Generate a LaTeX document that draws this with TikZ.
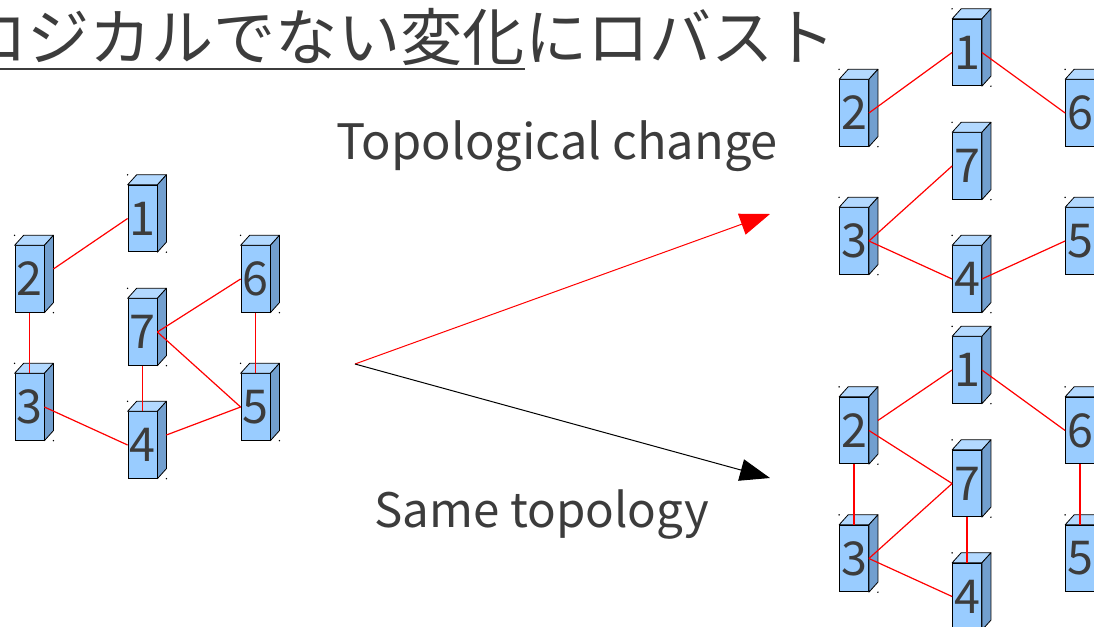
\documentclass[tikz,border=0pt]{standalone}
\usepackage{fontspec}
\setmainfont{Noto Sans CJK JP}
\usetikzlibrary{arrows.meta}
\definecolor{txt}{HTML}{3C3C3C}
\definecolor{front}{HTML}{99CCFF}
\definecolor{topf}{HTML}{B3D9FF}
\definecolor{side}{HTML}{729FCF}
\tikzset{
  cube/.style={draw=black, line width=0.6pt, fill=front, inner sep=0pt,
    minimum width=21.75pt, minimum height=49.9pt, text=txt,
    font=\fontsize{35}{35}\selectfont},
  link/.style={draw=red, line width=0.9pt},
  face/.style={draw=black, line width=0.6pt, line join=round},
  label/.style={anchor=base west, inner sep=0pt, text=txt},
}
\newcommand\cubeset[3]{%
  \begin{scope}[shift={(#2,#3)}]
    \node[cube] (#1a) at (142.5,218.5) {1};
    \node[cube] (#1b) at (29.5,279) {2};
    \node[cube] (#1f) at (255.5,279) {6};
    \node[cube] (#1g) at (142.5,332) {7};
    \node[cube] (#1c) at (29.5,407) {3};
    \node[cube] (#1e) at (255.5,407) {5};
    \node[cube] (#1d) at (142.5,445) {4};
  \end{scope}}
\begin{document}
\begin{tikzpicture}[x=0.75pt, y=-0.75pt]
  \fill[white] (0,0) rectangle (1094,627);
  \useasboundingbox (0,0) rectangle (1094,627);

  % title
  \node[label, font=\fontsize{46.6}{46.6}\selectfont] (t1) at (-35,61) {ロジカルでない変化};
  \node[label, font=\fontsize{46.6}{46.6}\selectfont] (t2) at (t1.base east) {にロバスト};
  \draw[txt, line width=1.5pt] ([shift={(0,8)}]t1.base west) -- ([shift={(0,8)}]t1.base east);

  % labels
  \node[label, font=\fontsize{36.6}{36.6}\selectfont] (topo) at (336,160) {Topological change};
  \node[label, font=\fontsize{35.6}{35.6}\selectfont] (same) at (374,527) {Same topology};

  % cubes
  \cubeset{L}{0}{0}
  \cubeset{T}{824.5}{-166}
  \cubeset{B}{824.5}{151.5}

  \foreach \g in {L,T,B}{
    \foreach \i in {a,b,c,d,e,f,g}{
      \filldraw[face, fill=topf] (\g\i.north west) -- ([shift={(9,-10)}]\g\i.north west)
        -- ([shift={(9,-10)}]\g\i.north east) -- (\g\i.north east) -- cycle;
      \filldraw[face, fill=side] (\g\i.north east) -- ([shift={(9,-10)}]\g\i.north east)
        -- ([shift={(9,-10)}]\g\i.south east) -- (\g\i.south east) -- cycle;
      \fill[black] ([shift={(0,-10)}]\g\i.north west) circle (0.6pt);
      \fill[black] ([shift={(9,0)}]\g\i.south east) circle (0.6pt);
    }
  }

  % left graph
  \draw[link] ([shift={(9,-10)}]Lb.east) -- (La.west);
  \draw[link] (Lb.south) -- (Lc.north);
  \draw[link] (Lg.east) -- (Lf.west);
  \draw[link] (Lg.east) -- (Le.west);
  \draw[link] (Lg.south) -- (Ld.north);
  \draw[link] (Lc.east) -- (Ld.west);
  \draw[link] ([shift={(9,-10)}]Ld.east) -- (Le.west);
  \draw[link] (Lf.south) -- (Le.north);

  % top-right graph
  \draw[link] (Tb.east) -- (Ta.west);
  \draw[link] (Ta.east) -- (Tf.west);
  \draw[link] (Tc.east) -- (Tg.west);
  \draw[link] (Tc.east) -- (Td.west);
  \draw[link] (Td.east) -- (Te.west);

  % bottom-right graph
  \draw[link] ([shift={(9,-10)}]Bb.east) -- (Ba.west);
  \draw[link] (Ba.east) -- (Bf.west);
  \draw[link] (Bb.east) -- (Bg.west);
  \draw[link] (Bc.east) -- (Bg.west);
  \draw[link] (Bc.east) -- (Bd.west);
  \draw[link] (Bb.south) -- (Bc.north);
  \draw[link] (Bg.south) -- (Bd.north);
  \draw[link] (Bf.south) -- (Be.north);

  % arrows
  \coordinate (src) at (355,364);
  \coordinate (redtip) at (770,214);
  \coordinate (blktip) at (770,478);
  \draw[red, line width=0.75pt, -{Triangle[length=22.5pt,width=16.5pt]}] (src) -- (redtip);
  \draw[black, line width=0.75pt, -{Triangle[length=22.5pt,width=16.5pt]}] (src) -- (blktip);
\end{tikzpicture}
\end{document}
